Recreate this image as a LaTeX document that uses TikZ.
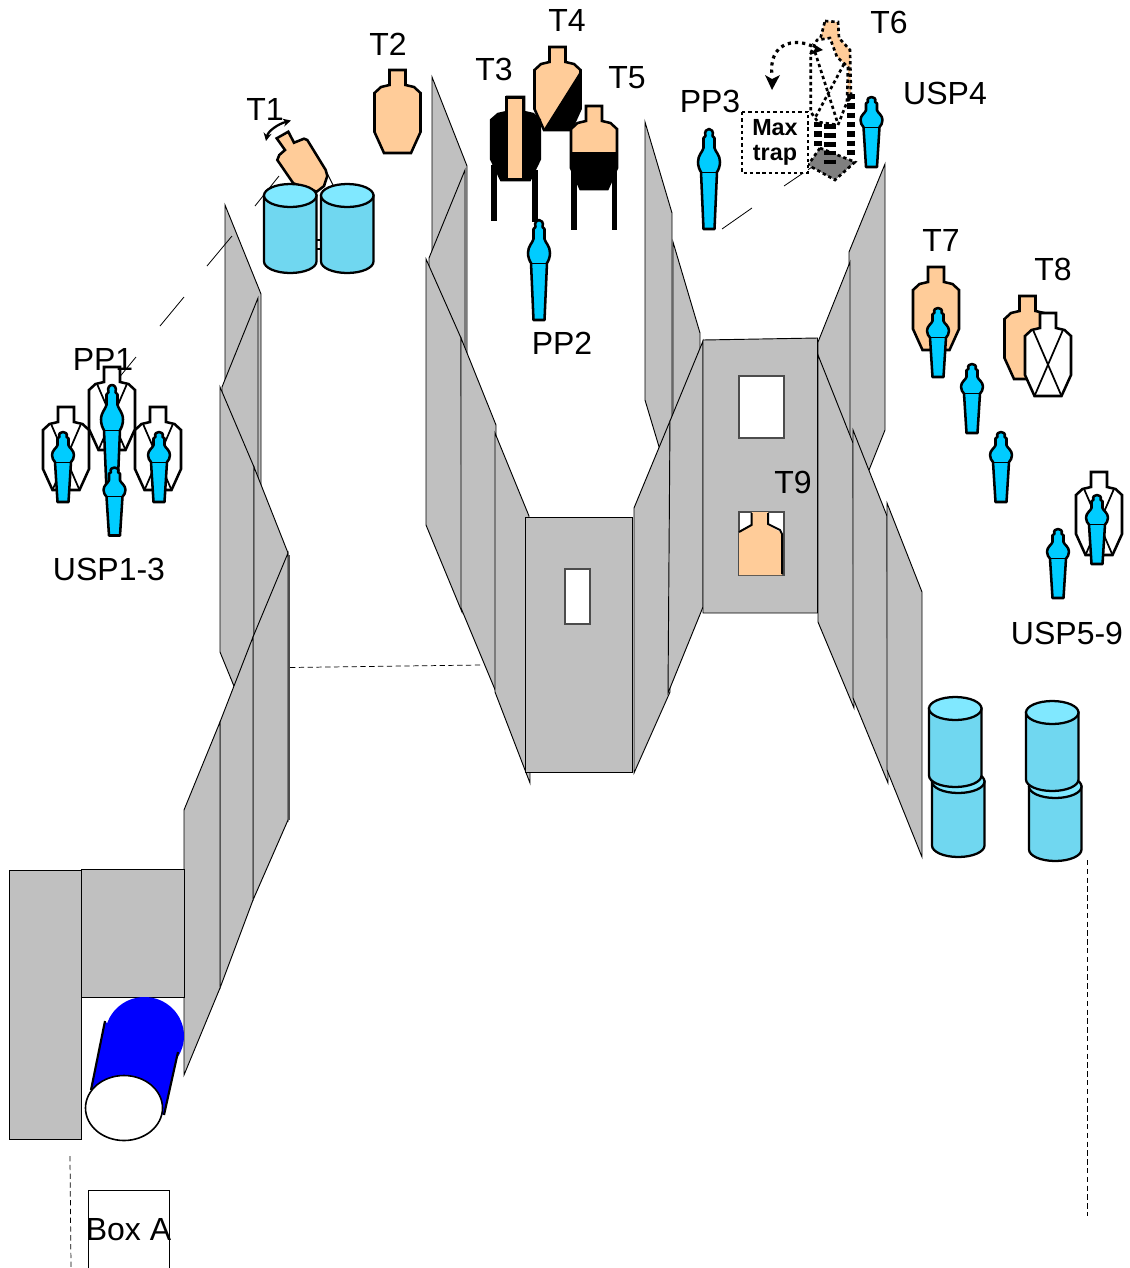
\documentclass[tikz,border=0pt]{standalone}
\usepackage{fontspec}
\setmainfont{Liberation Sans}
\usetikzlibrary{arrows.meta}
\definecolor{wallgrey}{HTML}{C0C0C0}
\definecolor{skin}{HTML}{FFCC99}
\definecolor{popblue}{HTML}{00CCFF}
\definecolor{barrelbody}{HTML}{70D7F0}
\definecolor{barreltop}{HTML}{80E8FF}
\definecolor{trapgrey}{HTML}{7F7F7F}
\tikzset{
  wall/.style={fill=wallgrey,draw=black,line width=0.7pt,line join=miter},
  holebox/.style={fill=white,draw=black!70,line width=0.9pt},
  tgtline/.style={draw=black,line width=1.9pt,line join=miter},
  popline/.style={draw=black,fill=popblue,line width=1.9pt,line join=round},
  barrel/.style={draw=black,line width=1.7pt},
  sight/.style={draw=black,line width=0.6pt},
  thindash/.style={draw=black,line width=0.55pt,dash pattern=on 4pt off 2.6pt},
  dotline/.style={draw=black,line width=2pt,dash pattern=on 2.5pt off 2.2pt},
  lab/.style={font=\fontsize{24}{28}\selectfont,inner sep=0pt,text=black},
  legbar/.style={draw=none,fill=black},
}
% outline of a target, cx = centre, top = top of the head
\newcommand{\tgtpath}{(-8,0) -- (8,0) -- (8,15) -- (16.5,17) -- (23,23) -- (23,62) -- (13.5,83) -- (-13.5,83) -- (-23,62) -- (-23,23) -- (-16.5,17) -- (-8,15) -- cycle}
\newcommand{\tgtfig}[3]{\path[tgtline,fill=#3,shift={(#1,#2)}] \tgtpath;}
\newcommand{\tgtx}[2]{%
  \begin{scope}[shift={(#1,#2)}]
    \path[tgtline,fill=white] \tgtpath;
    \draw[line width=1.3pt] (-14.5,18) -- (13.5,83) (14.5,18) -- (-13.5,83);
  \end{scope}}
% popper: cx, top, height
\newcommand{\popfig}[3]{%
  \begin{scope}[shift={(#1,#2)},yscale=#3/100]
    \path[popline] (-5.5,9) -- (-3.5,7) .. controls (-5,2) and (-2,0) .. (0,0) .. controls (2,0) and (5,2) .. (3.5,7) -- (5.5,9) -- (5.5,19)
      .. controls (6.5,23) and (11,26) .. (11,33) .. controls (11,37) and (9.5,41) .. (8,43) -- (5.5,100) -- (-5.5,100) -- (-8,43)
      .. controls (-9.5,41) and (-11,37) .. (-11,33) .. controls (-11,26) and (-6.5,23) .. (-5.5,19) -- cycle;
    \draw[line width=0.5pt] (-8,43) -- (8,43);
  \end{scope}}
% barrel: left, top, bottom
\newcommand{\barrelfig}[3]{%
  \begin{scope}[shift={(#1,0)}]
    \path[barrel,fill=barrelbody] (0,#2+11.5) -- (0,#3-11.5) arc[start angle=180,end angle=360,x radius=26.25,y radius=-11.5] -- (52.5,#2+11.5) -- cycle;
    \path[barrel,fill=barreltop] (26.25,#2+11.5) ellipse[x radius=26.25,y radius=11.5];
  \end{scope}}
\begin{document}
\begin{tikzpicture}[x=0.75pt,y=-0.75pt]
\useasboundingbox (0,0) rectangle (1129,1268);

% ---- left wall, upper
\path[wall] (225,205) -- (261,294) -- (261,560) -- (225,470) -- cycle;
\path[wall] (258,298) -- (222,387) -- (222,652) -- (258,563) -- cycle;
\path[wall] (220,387) -- (254,467) -- (254,735) -- (220,652) -- cycle;
\path[wall] (254,467) -- (288,553) -- (288,820) -- (254,735) -- cycle;
\path[wall] (288,553) -- (253,637) -- (253,900) -- (288,820) -- cycle;
\draw[line width=1pt,black!70] (289,555) -- (289,820);
\path[wall] (253,637) -- (220,722) -- (220,988) -- (253,900) -- cycle;
\path[wall] (220,722) -- (184,810) -- (184,1075) -- (220,988) -- cycle;
\path[wall] (9,870) rectangle (81,1139);
\path[wall] (81,869) rectangle (184.5,997);

% ---- tube
\fill[blue] (105,1022) -- (91,1090) -- (164,1115) -- (178,1052) -- cycle;
\fill[blue] (144.5,1036) ellipse[x radius=39.5,y radius=39];
\draw[line width=1.6pt] (105,1021) -- (91,1090) (178,1052) -- (164,1115);
\path[draw=black,fill=white,line width=1.2pt] (124,1108) ellipse[x radius=38.5,y radius=32.5];

% ---- centre, left walls
\path[wall] (432,77) -- (467,166) -- (467,430) -- (432,340) -- cycle;
\path[wall] (465,170) -- (429,258) -- (429,523) -- (465,435) -- cycle;
\path[wall] (426,259) -- (461,338) -- (462,612) -- (426,525) -- cycle;
\path[wall] (461,338) -- (496,425) -- (496,692) -- (461,608) -- cycle;
\path[wall] (495,433) -- (529,516) -- (530,783) -- (495,692) -- cycle;

% ---- centre, upper right walls
\path[wall] (645,122) -- (672,213) -- (672,490) -- (645,400) -- cycle;
\path[wall] (673,242) -- (700,333) -- (700,600) -- (673,510) -- cycle;

% ---- right upper walls
\path[wall] (885,164) -- (849,252) -- (849,520) -- (885,430) -- cycle;
\path[wall] (850,262) -- (818,342) -- (818,610) -- (850,530) -- cycle;

% ---- centre front
\path[wall] (634,508) -- (670,421) -- (670,692) -- (634,773) -- cycle;
\path[wall] (670,421) -- (703,341) -- (703,607) -- (668,693) -- cycle;
\path[wall] (525.5,517) rectangle (632.5,772.5);
\path[holebox] (565,569) rectangle (590,624);

% ---- back panel
\path[wall] (703,340) -- (817.5,338) -- (817.5,613) -- (703,613) -- cycle;
\path[holebox] (739,376) rectangle (784,438);
\path[holebox] (739,512) rectangle (784,575);
\fill[skin] (739,531) -- (752,525) -- (752,512) -- (768,512) -- (768,525) -- (782,533) -- (782,575) -- (739,575) -- cycle;
\draw[line width=1.5pt] (739,532) -- (751.5,525) -- (751.5,513);
\draw[line width=1.5pt] (768,513) -- (768,524) -- (780,530) -- (782,534) -- (782,574);

% ---- right lower walls
\path[wall] (818,355) -- (853,443) -- (854,708) -- (818,622) -- cycle;
\path[wall] (853,430) -- (887,516) -- (888,783) -- (853,698) -- cycle;
\path[wall] (887,503) -- (922,592) -- (922,857) -- (887,770) -- cycle;

% ---- thin lines
\draw[sight] (160,326) -- (184,297);
\draw[sight] (207,266) -- (232,236);
\draw[sight] (113,385) -- (136,357);
\draw[sight] (722,229) -- (752,208);
\draw[sight] (784,186) -- (815,165);
\draw[thindash] (290,667.5) -- (480,665);
\draw[thindash] (70,1156) -- (71,1268);
\draw[thindash] (1087,860) -- (1087,1216);

% ---- Box A
\draw[line width=0.7pt] (88,1268) -- (88,1190.5) -- (169,1190.5) -- (169,1268);
\node[lab] (boxa) at (128.5,1230) {Box A};

% ---- T1 and barrels
\draw[sight,line width=0.8pt] (326,171) -- (334,187);
\path[tgtline,fill=skin] (276.7,138.3) -- (288.3,131.7) -- (294,142.7) -- (304,138.7) -- (307.3,140) -- (325.7,170) -- (327.3,176) -- (324,186) -- (316.7,191.7) -- (293.3,183.3) -- (277.3,160) -- (279.3,155) -- (285,150) -- cycle;
\draw[line width=1.7pt,{Stealth[length=6pt,width=6pt]}-{Stealth[length=6pt,width=6pt]}] (266,141) .. controls (268,131) and (278,124) .. (291,120.5);
\draw[sight] (255,206) -- (279,176);
\draw[line width=1.5pt] (317,240) -- (321,240) (317,249) -- (321,249);
\barrelfig{264}{184}{273}
\barrelfig{321}{184}{273}

% ---- T2
\tgtfig{397.5}{70}{skin}

% ---- T4
\tgtfig{557.5}{47}{skin}
\fill[black] (581,70) -- (581,109) -- (571,130.5) -- (543,130.5) -- cycle;

% ---- T3
\fill[black] (491,165) rectangle (497,221);
\fill[black] (532,170) rectangle (538,222);
\begin{scope}[shift={(515.5,97)},xscale=1.06]
  \path[tgtline,fill=black] \tgtpath;
\end{scope}
\path[tgtline,fill=skin] (506.5,97.5) rectangle (523,179);

% ---- T5
\fill[black] (571,170) rectangle (576.7,230);
\fill[black] (611.5,170) rectangle (617,230);
\tgtfig{594}{106}{skin}
\fill[black] (570.3,152) -- (617.7,152) -- (617.7,168) -- (607.5,189.8) -- (580.5,189.8) -- (570.3,168) -- cycle;

% ---- T6 / Max trap
\path[dotline,fill=skin] (825,21) -- (838,22) -- (839,38) -- (850,50) -- (851,97) -- (847,102) -- (837,70) -- (820,40) -- cycle;
\draw[line width=6pt,dash pattern=on 4pt off 3pt] (818,122) -- (818,146);
\draw[line width=6pt,dash pattern=on 4pt off 3pt] (851,94) -- (851,155);
\path[dotline,fill=white] (810.7,53) -- (817,40) -- (830,38) -- (837,57) -- (848,67) -- (847,102) -- (838,125) -- (818,122) -- (810.7,112) -- cycle;
\draw[dotline] (815,52) -- (838,124);
\draw[dotline] (844,64) -- (815,118);
\path[draw=black,fill=trapgrey,line width=2pt,dash pattern=on 2.5pt off 2.2pt] (820,148) -- (855,162) -- (835,180) -- (808,165) -- cycle;
\draw[line width=9pt,dash pattern=on 3.5pt off 3.2pt] (830,124) -- (830,165);
\path[dotline,fill=white] (742,112) rectangle (808,173);
\node[align=center,inner sep=0pt,font=\fontsize{17.5}{18.8}\selectfont\bfseries] (maxtrap) at (775,142) {Max\\trap};
\draw[dotline,line width=2.4pt,dash pattern=on 2.4pt off 3pt] (812,46) .. controls (795,38) and (768,42) .. (772,76);
\fill[black] (823,50) -- (810,55) -- (815,49) -- (812,43) -- cycle;
\fill[black] (772,90) -- (765,75) -- (772,79) -- (780,75) -- cycle;

% ---- PP2 / PP3 / USP4
\popfig{539}{220}{100}
\popfig{709}{129}{100}
\popfig{871.5}{97}{70}

% ---- PP1 / USP1-3
\tgtx{66}{407}
\tgtx{158}{407}
\tgtx{112}{367}
\popfig{63}{432}{70}
\popfig{159}{432}{70}
\popfig{112}{385}{105}
\popfig{114.5}{467.5}{68}

% ---- T7, T8, USP5-9
\tgtfig{936}{267}{skin}
\tgtfig{1027.5}{296}{skin}
\tgtx{1048}{313}
\tgtx{1099}{472}
\popfig{938}{308}{69}
\popfig{972}{364}{69}
\popfig{1001}{432}{70}
\popfig{1058}{529}{69}
\popfig{1097}{495}{69}

% ---- stacked barrels
\barrelfig{932}{770}{857}
\barrelfig{929}{697}{787}
\barrelfig{1029}{775}{861}
\barrelfig{1026}{701}{791}

% ---- labels
\node[lab] (t1) at (265,109) {T1};
\node[lab] (t2) at (388,44) {T2};
\node[lab] (t3) at (494,69) {T3};
\node[lab] (t4) at (567,20) {T4};
\node[lab] (t5) at (627,78) {T5};
\node[lab] (t6) at (889,22) {T6};
\node[lab] (pp3) at (710,101) {PP3};
\node[lab] (usp4) at (945,93) {USP4};
\node[lab] (t7) at (941,240) {T7};
\node[lab] (t8) at (1053,269) {T8};
\node[lab] (t9) at (793,482) {T9};
\node[lab] (pp1) at (103,359) {PP1};
\node[lab] (usp13) at (109,569) {USP1-3};
\node[lab] (pp2) at (562,343) {PP2};
\node[lab] (usp59) at (1067,633) {USP5-9};
\end{tikzpicture}
\end{document}
